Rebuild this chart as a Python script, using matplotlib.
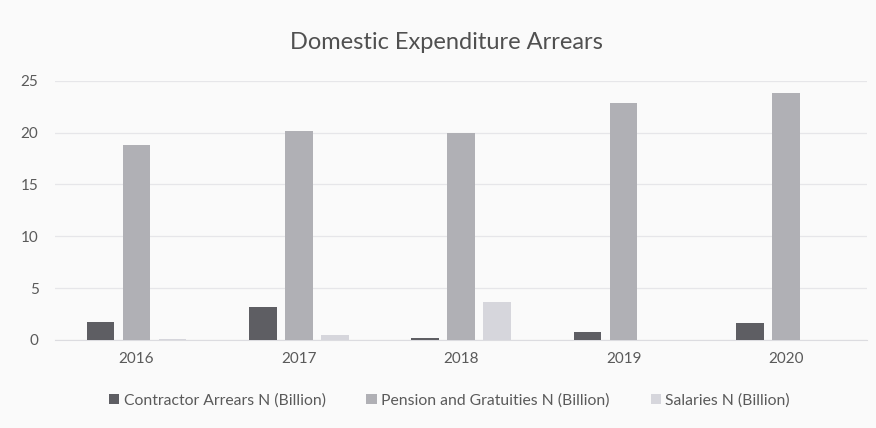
import matplotlib.pyplot as plt
import numpy as np

years = ['2016', '2017', '2018', '2019', '2020']
contractor = [1.7, 3.2, 0.2, 0.8, 1.6]
pension = [18.8, 20.2, 20.0, 22.9, 23.8]
salaries = [0.1, 0.5, 3.7, 0.0, 0.0]

plt.rcParams['font.family'] = ['Lato', 'DejaVu Sans']

fig = plt.figure(figsize=(8.76, 4.28), dpi=100, facecolor='#fafafa')
ax = fig.add_axes([0.063, 0.206, 0.927, 0.605], facecolor='#fafafa')

x = np.arange(len(years))
w = 0.17
step = 0.222
ax.bar(x - step, contractor, w, color='#5e5e63', label='Contractor Arrears N (Billion)', zorder=3)
ax.bar(x, pension, w, color='#b0b0b5', label='Pension and Gratuities N (Billion)', zorder=3)
ax.bar(x + step, salaries, w, color='#d6d6dc', label='Salaries N (Billion)', zorder=3)

ax.set_xlim(-0.5, 4.5)
ax.set_ylim(0, 25)
ax.set_yticks([0, 5, 10, 15, 20, 25])
ax.set_xticks(x)
ax.set_xticklabels(years)
ax.grid(axis='y', color='#e6e6e9', linewidth=0.9, zorder=0)
for s in ['top', 'right', 'left']:
    ax.spines[s].set_visible(False)
ax.spines['bottom'].set_color('#dcdce0')
ax.tick_params(axis='both', length=0, labelsize=11, colors='#5a5a5a')
ax.tick_params(axis='x', pad=9)
ax.tick_params(axis='y', pad=12)

fig.suptitle('Domestic Expenditure Arrears', x=0.51, y=0.925, fontsize=17, color='#505050')
fig.legend(loc='center', bbox_to_anchor=(0.513, 0.065), ncol=3, frameon=False,
           fontsize=11.3, labelcolor='#5a5a5a', handlelength=0.65, handleheight=0.65,
           handletextpad=0.3, columnspacing=2.6)

plt.savefig('out.png', dpi=100, facecolor=fig.get_facecolor())
